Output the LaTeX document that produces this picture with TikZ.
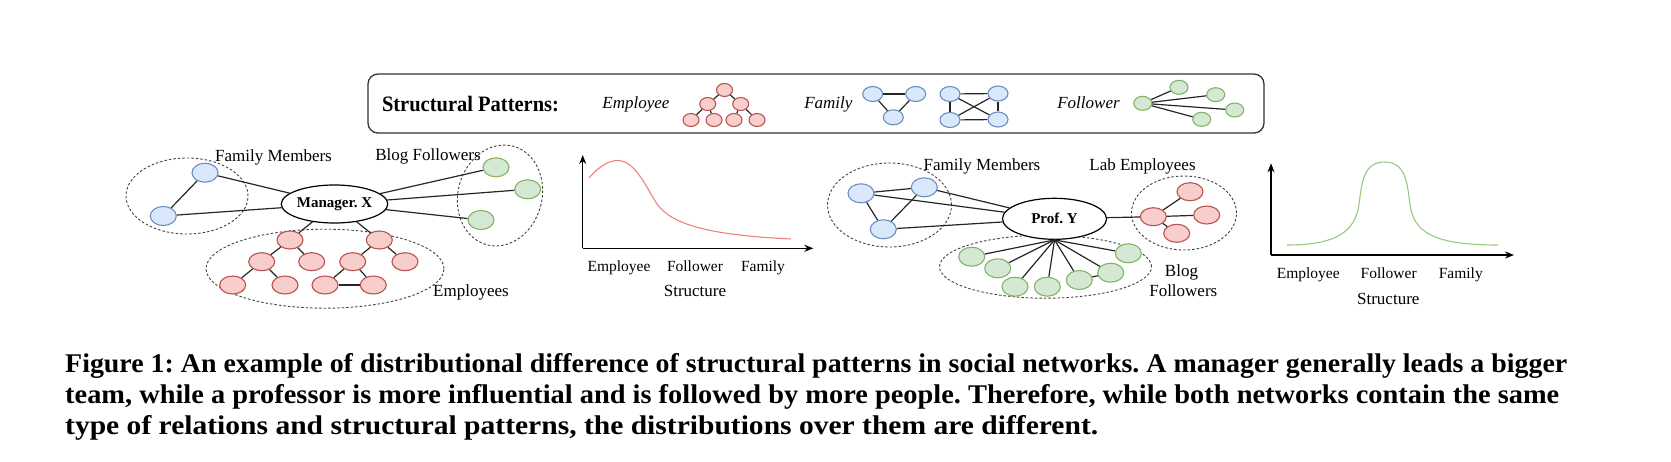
\documentclass[tikz,border=0pt]{standalone}
\usepackage{fontspec}
\setmainfont{Liberation Serif}
\usetikzlibrary{shapes.geometric,arrows.meta}
\definecolor{bfill}{HTML}{DAE8FC}
\definecolor{bdraw}{HTML}{6C8EBF}
\definecolor{rfill}{HTML}{F8CECC}
\definecolor{rdraw}{HTML}{B85450}
\definecolor{gfill}{HTML}{D5E8D4}
\definecolor{gdraw}{HTML}{82B366}
\definecolor{rcurve}{HTML}{EF8080}
\definecolor{gcurve}{HTML}{97C97F}
\frenchspacing
\begin{document}
\begin{tikzpicture}[x=1pt,y=-1pt,
 nd/.style={ellipse, draw, line width=1.1pt, inner sep=0pt, minimum width=26pt, minimum height=19pt},
 bn/.style={nd, fill=bfill, draw=bdraw},
 rn/.style={nd, fill=rfill, draw=rdraw, minimum height=18pt},
 gn/.style={nd, fill=gfill, draw=gdraw},
 sbn/.style={bn, minimum width=20pt, minimum height=15pt},
 srn/.style={rn, minimum width=16pt, minimum height=13pt},
 sgn/.style={gn, minimum width=18pt, minimum height=14pt},
 grp/.style={ellipse, draw=black!75, dash pattern=on 2.5pt off 2pt, line width=0.9pt, inner sep=0pt},
 hub/.style={ellipse, draw, line width=1.2pt, fill=white, inner sep=0pt, font=\fontsize{15}{17}\selectfont\bfseries},
 ln/.style={line width=1.2pt, black!85},
 lbl/.style={anchor=base, inner sep=0pt, font=\fontsize{17}{19}\selectfont},
 ilbl/.style={anchor=base, inner sep=0pt, font=\fontsize{17}{19}\selectfont\itshape},
 albl/.style={anchor=base, inner sep=0pt, font=\fontsize{15.5}{17}\selectfont},
 axisline/.style={line width=1.2pt, -{Stealth[length=9pt,width=7pt]}},
 capline/.style={anchor=base west, inner sep=0pt, font=\fontsize{27}{30}\selectfont\bfseries},
]
\useasboundingbox (0,0) rectangle (1671,461);

% ---------- legend box ----------
\node[draw=black!80, line width=1.3pt, rounded corners=10pt, minimum width=896pt, minimum height=59pt, inner sep=0pt] (legend) at (816,103.5) {};
\node[anchor=base, inner sep=0pt, font=\fontsize{22}{24}\selectfont\bfseries] (sp) at (470.5,111.7) {\resizebox{177pt}{\height}{Structural Patterns:}};
\node[ilbl] (lemp) at (636,108.3) {Employee};
\node[ilbl] (lfam) at (828.4,108.3) {Family};
\node[ilbl] (lfol) at (1088.5,108.3) {Follower};

% small employee tree
\node[srn] (e1) at (724.5,90) {};
\node[srn] (e2) at (707.7,104) {};
\node[srn] (e3) at (740.7,104) {};
\node[srn] (e4) at (691,120) {};
\node[srn] (e5) at (714,120) {};
\node[srn] (e6) at (734,120) {};
\node[srn] (e7) at (757,120) {};
\draw[ln] (e1) -- (e2); \draw[ln] (e1) -- (e3);
\draw[ln] (e2) -- (e4); \draw[ln] (e2) -- (e5);
\draw[ln] (e3) -- (e6); \draw[ln] (e3) -- (e7);

% small family triangle
\node[sbn] (f1) at (872.7,94) {};
\node[sbn] (f2) at (915.7,94) {};
\node[sbn] (f3) at (893.3,117.3) {};
\draw[ln] (f1) -- (f2); \draw[ln] (f1) -- (f3); \draw[ln] (f2) -- (f3);

% small family square
\node[sbn] (s1) at (950,94) {};
\node[sbn] (s2) at (998,93.5) {};
\node[sbn] (s3) at (950,120) {};
\node[sbn] (s4) at (998,119.5) {};
\draw[ln] (s1) -- (s2); \draw[ln] (s3) -- (s4);
\draw[ln] (s1) -- (s3); \draw[ln] (s2) -- (s4);
\draw[ln] (s1) -- (s4); \draw[ln] (s2) -- (s3);

% small follower star
\node[sgn] (c0) at (1142.7,103.3) {};
\node[sgn] (c1) at (1179,87.3) {};
\node[sgn] (c2) at (1215.7,94.7) {};
\node[sgn] (c3) at (1234.7,110) {};
\node[sgn] (c4) at (1201.7,119.3) {};
\foreach \k in {1,2,3,4} {\draw[ln] (c0) -- (c\k);}

% ---------- left network ----------
\node[grp, minimum width=122pt, minimum height=76pt] (gfam1) at (187,196) {};
\node[grp, minimum width=84pt, minimum height=102pt, rotate=-15] (gblog1) at (500,195.5) {};
\node[grp, minimum width=238pt, minimum height=79pt] (gemp1) at (325,268.7) {};

\node[hub, minimum width=104pt, minimum height=38pt] (mgr) at (334.5,204) {Manager. X};

\node[bn] (b1) at (205,172.7) {};
\node[bn] (b2) at (163.3,216) {};
\node[gn] (gr1) at (496,167.3) {};
\node[gn] (gr2) at (527.7,189.3) {};
\node[gn] (gr3) at (481,220) {};

\node[rn] (t1a) at (290,240) {};
\node[rn] (t1b) at (261.7,261.7) {};
\node[rn] (t1c) at (311.7,261.7) {};
\node[rn] (t1d) at (232.7,285) {};
\node[rn] (t1e) at (285,285) {};
\node[rn] (t2a) at (379.3,240) {};
\node[rn] (t2b) at (352.7,261.7) {};
\node[rn] (t2c) at (405,261.7) {};
\node[rn] (t2d) at (325,285) {};
\node[rn] (t2e) at (373.3,285) {};

\draw[ln] (b1) -- (b2);
\draw[ln] (b1) -- (mgr); \draw[ln] (b2) -- (mgr);
\draw[ln] (mgr) -- (gr1); \draw[ln] (mgr) -- (gr2); \draw[ln] (mgr) -- (gr3);
\draw[ln] (mgr) -- (t1a); \draw[ln] (mgr) -- (t2a);
\draw[ln] (t1a) -- (t1b); \draw[ln] (t1a) -- (t1c);
\draw[ln] (t1b) -- (t1d); \draw[ln] (t1b) -- (t1e);
\draw[ln] (t2a) -- (t2b); \draw[ln] (t2a) -- (t2c);
\draw[ln] (t2b) -- (t2d); \draw[ln] (t2b) -- (t2e);
\draw[ln] (t2d) -- (t2e);

\node[lbl] (lfm1) at (273.5,161.7) {Family Members};
\node[lbl] (lbf1) at (428,160.7) {Blog Followers};
\node[lbl] (lem1) at (471,296.7) {Employees};

% ---------- chart 1 ----------
\coordinate (o1) at (582.7,248.3);
\coordinate (yt1) at (582.7,155);
\coordinate (xt1) at (813.3,248.3);
\draw[axisline] (o1) -- (yt1);
\draw[axisline] (o1) -- (xt1);
\draw[rcurve, line width=1.1pt] (589,178) .. controls (600,165) and (610,160.5) .. (618,160.5)
  .. controls (635,161) and (645,185) .. (657,204)
  .. controls (672,225) and (710,235) .. (791,239);
\node[albl] (a1) at (619,271.7) {Employee};
\node[albl] (a2) at (695,271.7) {Follower};
\node[albl] (a3) at (763,271.7) {Family};
\node[lbl] (a4) at (695,296.7) {Structure};

% ---------- right network ----------
\node[grp, minimum width=124pt, minimum height=84pt] (gfam2) at (889.5,205) {};
\node[grp, minimum width=105pt, minimum height=74pt] (glab) at (1184,213) {};
\node[grp, minimum width=212pt, minimum height=63pt] (gblog2) at (1045.5,266.7) {};

\node[hub, minimum width=104pt, minimum height=41pt] (prof) at (1054.5,218.8) {Prof. Y};

\node[bn] (pb1) at (861,193.3) {};
\node[bn] (pb2) at (924.3,187.3) {};
\node[bn] (pb3) at (883.3,229.3) {};
\draw[ln] (pb1) -- (pb2); \draw[ln] (pb1) -- (pb3); \draw[ln] (pb2) -- (pb3);
\draw[ln] (pb1) -- (prof); \draw[ln] (pb2) -- (prof); \draw[ln] (pb3) -- (prof);

\node[rn] (lh) at (1153.3,216.7) {};
\node[rn] (lr1) at (1190,191.7) {};
\node[rn] (lr2) at (1206.7,215) {};
\node[rn] (lr3) at (1176.7,233.3) {};
\draw[ln] (prof) -- (lh);
\draw[ln] (lh) -- (lr1); \draw[ln] (lh) -- (lr2); \draw[ln] (lh) -- (lr3);

\node[gn] (pg1) at (971.7,256.7) {};
\node[gn] (pg2) at (997.7,268.3) {};
\node[gn] (pg3) at (1015,286.7) {};
\node[gn] (pg4) at (1047.3,286.7) {};
\node[gn] (pg5) at (1079.3,280) {};
\node[gn] (pg6) at (1110.7,272.7) {};
\node[gn] (pg7) at (1128.3,253.3) {};
\foreach \k in {1,...,7} {\draw[ln] (prof.south) -- (pg\k);}
\draw[ln] (pg5) -- (pg6);

\node[lbl] (lfm2) at (982,170) {Family Members};
\node[lbl] (lle2) at (1142.5,170) {Lab Employees};
\node[lbl] (lbl2a) at (1181.5,276.7) {Blog};
\node[lbl] (lbl2b) at (1183.3,296) {Followers};

% ---------- chart 2 ----------
\coordinate (o2) at (1271,255);
\coordinate (yt2) at (1271,163.3);
\coordinate (xt2) at (1514,255);
\draw[axisline] (o2) -- (yt2);
\draw[axisline] (o2) -- (xt2);
\draw[gcurve, line width=1.1pt] (1287,245) .. controls (1330,245) and (1352,235) .. (1358,210)
  .. controls (1362,190) and (1360,162) .. (1384.5,162)
  .. controls (1409,162) and (1407,190) .. (1411,210)
  .. controls (1417,235) and (1440,245) .. (1498,245);
\node[albl] (b21) at (1308.3,278.3) {Employee};
\node[albl] (b22) at (1388.7,278.3) {Follower};
\node[albl] (b23) at (1460.8,278.3) {Family};
\node[lbl] (b24) at (1388.3,304.3) {Structure};

% ---------- caption ----------
\node[capline] (cap1) at (65,372) {\resizebox{1502pt}{\height}{Figure 1: An example of distributional difference of structural patterns in social networks. A manager generally leads a bigger}};
\node[capline] (cap2) at (65,403) {\resizebox{1494pt}{\height}{team, while a professor is more influential and is followed by more people. Therefore, while both networks contain the same}};
\node[capline] (cap3) at (65,434) {\resizebox{1033pt}{\height}{type of relations and structural patterns, the distributions over them are different.}};
\end{tikzpicture}
\end{document}
